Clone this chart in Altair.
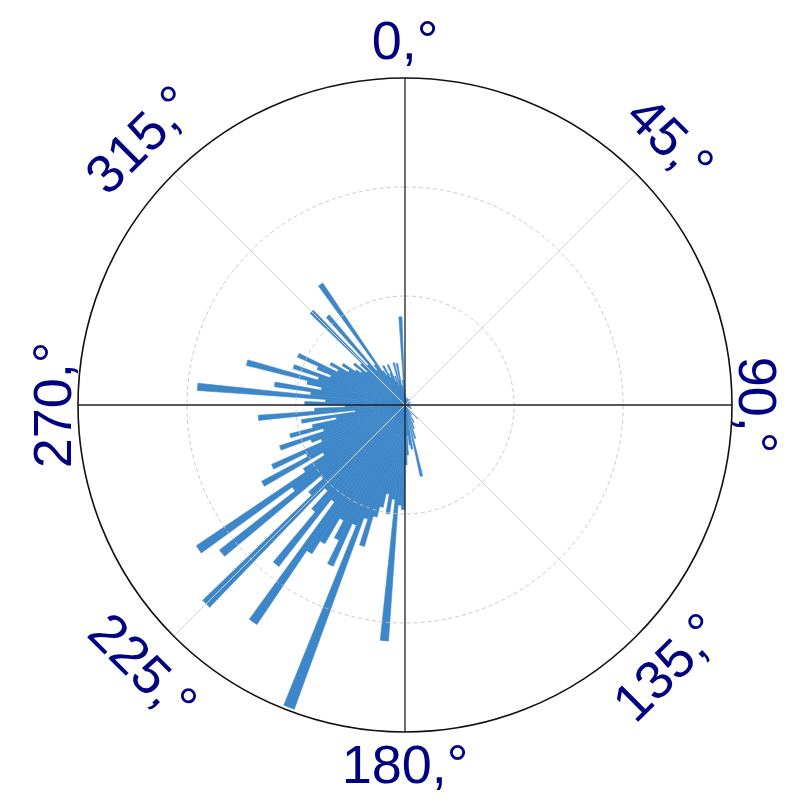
import math
import altair as alt
import pandas as pd

# ---- data (bar direction in degrees, bar value) ----
directions = [1, 5, 11, 21, 31, 41, 51, 65, 91, 111, 121, 137, 147, 153, 159, 163, 167, 171, 173, 175, 177, 179,
              181, 183, 185, 187, 189, 191, 193, 195, 197, 199, 201, 203, 205, 207, 209, 211, 213, 215, 217, 219,
              221, 223, 225, 227, 229, 231, 233, 235, 237, 239, 241, 243, 245, 247, 249, 251, 253, 255, 257, 259,
              261, 263, 265, 267, 269, 271, 273, 275, 277, 279, 281, 283, 285, 287, 289, 291, 293, 295, 297, 299,
              301, 303, 305, 307, 309, 311, 313, 315, 317, 319, 321, 323, 325, 327, 329, 331, 333, 335, 337, 339,
              341, 343, 345, 347, 349, 351, 353, 355, 357, 359]
values = [0.9, 0.7, 0.6, 0.7, 0.6, 0.7, 0.5, 0.6, 0.5, 0.6, 0.7, 1.7, 1.1, 1.8, 2.3, 3.2, 6.7, 4.1, 3.7, 2.8, 4.6, 5.5,
          9.6, 9.2, 21.7, 8.7, 10.1, 8.3, 9.6, 10.6, 13.5, 11.0, 29.7, 11.9, 16.2, 13.8, 12.0, 14.7, 16.1, 24.3, 11.0, 18.8,
          12.8, 10.6, 25.8, 11.9, 10.1, 21.6, 12.8, 23.1, 11.0, 8.7, 14.9, 10.1, 13.4, 8.3, 9.2, 12.1, 7.8, 10.9, 8.7, 6.4,
          9.6, 4.6, 13.5, 8.3, 5.5, 9.2, 7.3, 19.1, 8.7, 12.1, 7.8, 9.2, 15.0, 8.3, 10.8, 7.3, 8.7, 10.8, 6.9, 7.8,
          6.0, 6.8, 5.5, 5.0, 6.0, 4.6, 5.5, 12.1, 5.0, 10.8, 4.1, 4.6, 13.5, 3.7, 3.2, 4.1, 2.8, 3.2, 4.0, 2.3,
          2.8, 1.8, 4.0, 2.3, 3.9, 1.8, 1.4, 2.3, 8.1, 1.4]

label_angles = [0, 45, 90, 135, 180, 225, 270, 315]
label_texts = ["0,°", "45,°", "90,°", "135,°", "180,°", "225,°", "270,°", "315,°"]

ring_values = [10, 20]
outer_values = [30]
axis_angles = [0, 90, 180, 270]
diag_angles = [45, 135, 225, 315]

# ---- style ----
BIN = 2.0
CX, CY = 397, 397
R_MAX = 327
BAR_COLOR = "#3d87c9"
LABEL_COLOR = "#000080"
LABEL_SIZE = 54

theta_scale = alt.Scale(domain=[0, 360], range=[0, 2 * math.pi])
radius_scale = alt.Scale(type="linear", domain=[0, 30], range=[0, R_MAX], zero=True)

rotations = [a if (a <= 90 or a >= 270) else (a + 180) % 360 for a in label_angles]

bars_df = pd.DataFrame({"dir": directions, "value": values})
labels_df = pd.DataFrame({"deg": label_angles, "label": label_texts, "rot": rotations})

center = dict(x=alt.value(CX), y=alt.value(CY))

bars = alt.Chart(bars_df).transform_calculate(
    t0=f"datum.dir - {BIN / 2}", t1=f"datum.dir + {BIN / 2}"
).mark_arc(color=BAR_COLOR, stroke=BAR_COLOR, strokeWidth=0.6).encode(
    theta=alt.Theta("t0:Q", scale=theta_scale, stack=None),
    theta2=alt.Theta2("t1"),
    radius=alt.Radius("value:Q", scale=radius_scale, stack=None),
    radius2=alt.value(0),
    **center,
)

rings = alt.Chart(pd.DataFrame({"r": ring_values})).mark_arc(
    fillOpacity=0, stroke="#c4c4c4", strokeWidth=1, strokeDash=[4, 3], strokeOpacity=0.9
).encode(
    theta=alt.value(0), theta2=alt.value(2 * math.pi),
    radius=alt.Radius("r:Q", scale=radius_scale, stack=None),
    radius2=alt.value(0),
    **center,
)

diags = alt.Chart(pd.DataFrame({"a": diag_angles})).mark_arc(
    fillOpacity=0, stroke="#d8d8d8", strokeWidth=1, strokeOpacity=0.85
).encode(
    theta=alt.Theta("a:Q", scale=theta_scale, stack=None),
    theta2=alt.Theta2("a"),
    radius=alt.value(R_MAX), radius2=alt.value(0),
    **center,
)

axes = alt.Chart(pd.DataFrame({"a": axis_angles})).mark_arc(
    fillOpacity=0, stroke="#222222", strokeWidth=1.3
).encode(
    theta=alt.Theta("a:Q", scale=theta_scale, stack=None),
    theta2=alt.Theta2("a"),
    radius=alt.value(R_MAX), radius2=alt.value(0),
    **center,
)

outer = alt.Chart(pd.DataFrame({"r": outer_values})).mark_arc(
    fillOpacity=0, stroke="#111111", strokeWidth=1.6
).encode(
    theta=alt.value(0), theta2=alt.value(2 * math.pi),
    radius=alt.Radius("r:Q", scale=radius_scale, stack=None),
    radius2=alt.value(0),
    **center,
)


def label_layer(filter_expr, r_px):
    return alt.Chart(labels_df).transform_filter(filter_expr).mark_text(
        font="Liberation Sans", fontSize=LABEL_SIZE, color=LABEL_COLOR, align="center", baseline="middle"
    ).encode(
        theta=alt.Theta("deg:Q", scale=theta_scale, stack=None),
        radius=alt.value(r_px),
        text=alt.Text("label:N"),
        angle=alt.Angle("rot:Q", scale=None),
        **center,
    )


labels_vert = label_layer("datum.deg % 180 == 0", 362)
labels_horiz = label_layer("datum.deg % 180 == 90", 350)
labels_diag = label_layer("datum.deg % 90 == 45", 373)

chart = alt.layer(bars, rings, diags, axes, outer, labels_vert, labels_horiz, labels_diag).properties(
    width=781, height=790, padding=0,
    autosize=alt.AutoSizeParams(type="none"),
    background="white",
).configure_view(stroke=None)

chart.save("out.html", embed_options={"renderer": "svg", "actions": False})
